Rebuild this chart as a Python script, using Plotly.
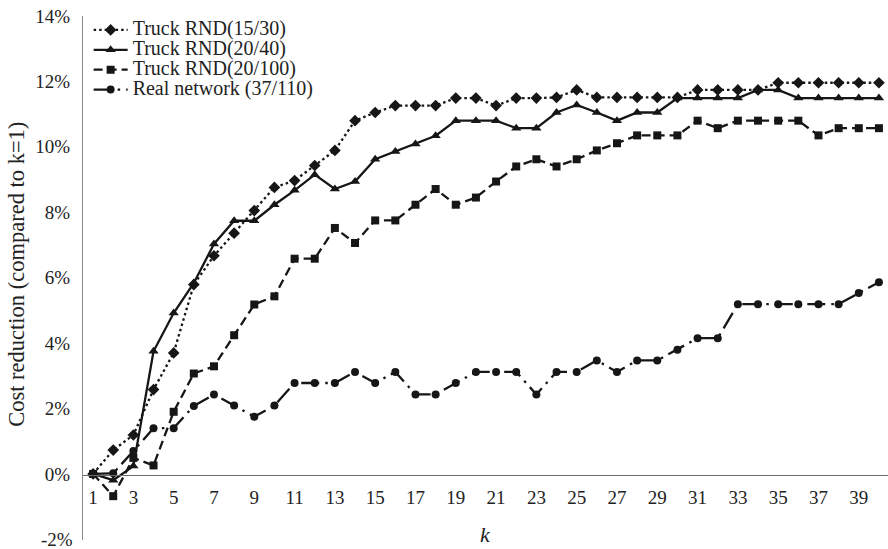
import plotly.graph_objects as go

# Iteration count k (1..40)
k_values = list(range(1, 41))

# Cost reduction relative to k=1, in percent
truck_15_30 = [0.00, 0.73, 1.19, 2.58, 3.70, 5.79, 6.67, 7.36, 8.05, 8.76,
               8.97, 9.43, 9.89, 10.80, 11.05, 11.26, 11.26, 11.26, 11.49, 11.49,
               11.26, 11.49, 11.49, 11.51, 11.74, 11.51, 11.51, 11.51, 11.51, 11.51,
               11.74, 11.74, 11.74, 11.74, 11.96, 11.96, 11.96, 11.96, 11.96, 11.96]

truck_20_40 = [0.00, -0.19, 0.24, 3.75, 4.92, 5.84, 7.03, 7.74, 7.74, 8.23,
               8.67, 9.15, 8.71, 8.94, 9.62, 9.86, 10.09, 10.34, 10.80, 10.80,
               10.80, 10.57, 10.57, 11.05, 11.28, 11.05, 10.80, 11.05, 11.05, 11.49,
               11.49, 11.49, 11.49, 11.74, 11.74, 11.49, 11.49, 11.49, 11.49, 11.49]

truck_20_100 = [0.00, -0.68, 0.49, 0.26, 1.90, 3.07, 3.29, 4.24, 5.18, 5.43,
                6.58, 6.58, 7.52, 7.06, 7.75, 7.75, 8.23, 8.71, 8.23, 8.45,
                8.94, 9.40, 9.62, 9.40, 9.62, 9.89, 10.11, 10.35, 10.35, 10.35,
                10.80, 10.57, 10.80, 10.80, 10.80, 10.80, 10.35, 10.57, 10.57, 10.57]

real_network = [0.00, 0.02, 0.70, 1.40, 1.40, 2.08, 2.43, 2.09, 1.75, 2.09,
                2.78, 2.78, 2.78, 3.12, 2.78, 3.12, 2.43, 2.43, 2.78, 3.12,
                3.12, 3.12, 2.43, 3.12, 3.12, 3.47, 3.12, 3.47, 3.47, 3.80,
                4.15, 4.15, 5.19, 5.19, 5.19, 5.19, 5.19, 5.19, 5.53, 5.86]

series_names = ["Truck RND(15/30)", "Truck RND(20/40)", "Truck RND(20/100)", "Real network (37/110)"]
x_tick_values = list(range(1, 41, 2))
y_tick_values = list(range(0, 15, 2))
y_tick_text = [f"{v}%" for v in y_tick_values]
y_axis_min = -2  # lower end of the value axis, labelled separately below

INK = "#161616"
FONT = "Liberation Serif, Times New Roman, serif"
TICK_SIZE = 19

def legend_label(name):
    return '<span style="font-size:20px">' + name + "</span>"

styles = [
    dict(data=truck_15_30, dash="2.5px,3px", symbol="diamond", size=9),
    dict(data=truck_20_40, dash="solid", symbol="triangle-up", size=9),
    dict(data=truck_20_100, dash="9px,5px", symbol="square", size=8),
    dict(data=real_network, dash="18px,6px,2.5px,6px", symbol="circle", size=8),
]

fig = go.Figure()
for name, st in zip(series_names, styles):
    fig.add_trace(go.Scatter(
        x=k_values, y=st["data"], name=legend_label(name),
        mode="lines+markers",
        line=dict(color=INK, width=2.3, dash=st["dash"]),
        marker=dict(symbol=st["symbol"], size=st["size"], color=INK, line=dict(width=0)),
    ))

fig.update_layout(
    width=888, height=549,
    margin=dict(l=83, r=0, t=16, b=9),
    paper_bgcolor="white", plot_bgcolor="white",
    font=dict(family=FONT, color="#222", size=18),
    showlegend=True,
    legend=dict(
        x=0.007, y=1.002, xanchor="left", yanchor="top",
        bgcolor="rgba(0,0,0,0)", borderwidth=0,
        font=dict(family=FONT, size=13, color="#222"),
        itemwidth=34, tracegroupgap=0,
    ),
    xaxis=dict(
        range=[0.5, 40.45], tickvals=x_tick_values,
        anchor="free", position=0.125,
        showline=True, linecolor="#6a6a6a", linewidth=1.2,
        showgrid=False, zeroline=False, ticks="",
        ticklabelstandoff=6,
        tickfont=dict(family=FONT, size=TICK_SIZE, color="#222"),
    ),
    yaxis=dict(
        range=[y_axis_min - 0.02, 14], tickvals=y_tick_values, ticktext=y_tick_text,
        showline=True, linecolor="#8a8a8a", linewidth=1,
        showgrid=False, zeroline=False, ticks="",
        ticklabelstandoff=8,
        tickfont=dict(family=FONT, size=TICK_SIZE, color="#222"),
    ),
    annotations=[
        dict(text=f"{y_axis_min}%", xref="paper", yref="y", x=0, y=y_axis_min,
             xanchor="right", yanchor="middle", xshift=-8, showarrow=False,
             font=dict(family=FONT, size=TICK_SIZE, color="#222")),
        dict(text="Cost reduction (compared to k=1)", textangle=-90,
             xref="paper", yref="paper", x=-0.082, y=0.508,
             xanchor="center", yanchor="middle", showarrow=False,
             font=dict(family=FONT, size=22.5, color="#222")),
        dict(text="<i>k</i>", xref="paper", yref="paper", x=0.5, y=0.01,
             xanchor="center", yanchor="middle", showarrow=False,
             font=dict(family=FONT, size=22, color="#222")),
    ],
)

fig.write_html("out.html")
